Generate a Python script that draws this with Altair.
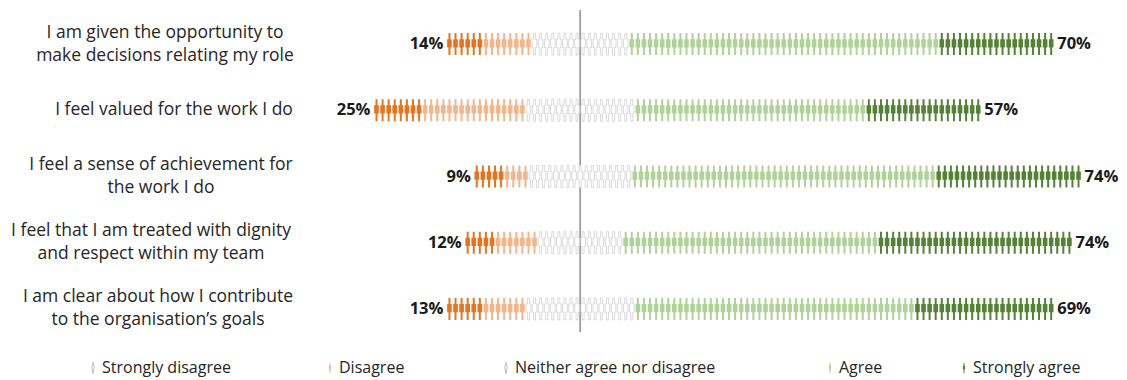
import altair as alt
import pandas as pd

# Survey statements (| marks a line break in the label)
QUESTIONS = [
    "I am given the opportunity to|make decisions relating my role",
    "I feel valued for the work I do",
    "I feel a sense of achievement for|the work I do",
    "I feel that I am treated with dignity|and respect within my team",
    "I am clear about how I contribute|to the organisation\u2019s goals",
]
RESPONSES = ["Strongly disagree", "Disagree", "Neither agree nor disagree",
             "Agree", "Strongly agree"]

# Percent of respondents per answer, one value per statement
STRONGLY_DISAGREE = [6, 8, 5, 5, 6]
DISAGREE = [8, 17, 4, 7, 7]
NEUTRAL = [16, 18, 17, 14, 18]
AGREE = [51, 38, 50, 42, 46]
STRONGLY_AGREE = [19, 19, 24, 32, 23]

COLORS = ["#E8731C", "#F5B48A", "#C4C4C4", "#B0D198", "#548235"]
FONT = "Open Sans"

# Layout (pixels)
PAD_LEFT, PAD_TOP = 337, 11
PLOT_W, PLOT_H = 778, 331
LABEL_CENTRES = [165, 174, 161, 151, 158]   # horizontal centre of each label block
LINE_H = 23
LEGEND_ICON_X = [93, 330, 506, 830, 964]
LEGEND_Y = 368

# one pictogram per percentage point
FIGURE = ("M-0.09,-1 L0.09,-1 L0.09,-0.45 L0.21,-0.45 L0.21,0.3 L0.09,0.3 "
          "L0.09,1 L-0.09,1 L-0.09,0.3 L-0.21,0.3 L-0.21,-0.45 L-0.09,-0.45 Z")

series = [STRONGLY_DISAGREE, DISAGREE, NEUTRAL, AGREE, STRONGLY_AGREE]

icons, totals, lines = [], [], []
for r, q in enumerate(QUESTIONS):
    vals = [s[r] for s in series]
    pos = -(vals[0] + vals[1] + vals[2] / 2)
    left_edge = pos
    for resp, v in zip(RESPONSES, vals):
        for i in range(v):
            icons.append({"q": q, "response": resp, "x": pos + i + 0.5})
        pos += v
    totals.append({"q": q, "xl": left_edge, "xr": pos,
                   "neg": f"{vals[0] + vals[1]}%",
                   "pos": f"{vals[3] + vals[4]}%"})
    parts = q.split("|")
    for k, t in enumerate(parts):
        lines.append({"q": q, "text": t, "slot": f"{len(parts)}-{k}",
                      "cx": LABEL_CENTRES[r] - PAD_LEFT})

icons = pd.DataFrame(icons)
totals = pd.DataFrame(totals)
lines = pd.DataFrame(lines)

xscale = alt.Scale(domain=[-40, 88], nice=False, zero=False)
yenc = alt.Y("q:N", sort=QUESTIONS, title=None, axis=None)
cscale = alt.Scale(domain=RESPONSES, range=COLORS)

base = alt.Chart(icons)

filled = base.transform_filter(
    alt.datum.response != RESPONSES[2]
).mark_point(shape=FIGURE, filled=True, size=484, opacity=1, strokeWidth=0).encode(
    x=alt.X("x:Q", scale=xscale, axis=None),
    y=yenc,
    color=alt.Color("response:N", scale=cscale, legend=None),
)

hollow = base.transform_filter(
    alt.datum.response == RESPONSES[2]
).mark_point(shape=FIGURE, filled=False, size=484, opacity=1, strokeWidth=0.7,
             fill="white", stroke="#CBCBCB").encode(
    x=alt.X("x:Q", scale=xscale, axis=None),
    y=yenc,
)

centre = alt.Chart(pd.DataFrame({"c": [0]})).mark_rule(
    color="#8C8C8C", strokeWidth=1.5
).encode(x=alt.X("c:Q", scale=xscale, axis=None),
         y=alt.value(-1), y2=alt.value(321))

lab_style = dict(font=FONT, fontSize=16.5, fontWeight="bold", color="#1a1a1a",
                 baseline="middle")
neg_lab = alt.Chart(totals).mark_text(align="right", dx=-3, **lab_style).encode(
    x=alt.X("xl:Q", scale=xscale, axis=None), y=yenc, text="neg:N")
pos_lab = alt.Chart(totals).mark_text(align="left", dx=3, **lab_style).encode(
    x=alt.X("xr:Q", scale=xscale, axis=None), y=yenc, text="pos:N")

# Statement labels, one layer per line slot so two-line labels sit centred
label_layers = []
for slot, dy in [("1-0", 0), ("2-0", -LINE_H / 2), ("2-1", LINE_H / 2)]:
    label_layers.append(
        alt.Chart(lines).transform_filter(alt.datum.slot == slot).mark_text(
            align="center", baseline="middle", dy=dy, font=FONT, fontSize=17.5,
            color="#262626"
        ).encode(x=alt.X("cx:Q", scale=None, axis=None), y=yenc, text="text:N")
    )

# Legend drawn by hand
leg = pd.DataFrame({"response": RESPONSES,
                    "lx": [v - PAD_LEFT for v in LEGEND_ICON_X],
                    "hollow": [True, False, True, False, False]})
ly = LEGEND_Y - PAD_TOP
leg_filled = alt.Chart(leg).transform_filter("!datum.hollow").mark_point(
    shape=FIGURE, filled=True, size=110, opacity=1, strokeWidth=0
).encode(x=alt.X("lx:Q", scale=None, axis=None), y=alt.value(ly),
         color=alt.Color("response:N", scale=cscale, legend=None))
leg_hollow = alt.Chart(leg).transform_filter("datum.hollow").mark_point(
    shape=FIGURE, filled=False, size=110, opacity=1, strokeWidth=0.8,
    fill="white", stroke="#B5B5B5"
).encode(x=alt.X("lx:Q", scale=None, axis=None), y=alt.value(ly))
leg_text = alt.Chart(leg).mark_text(
    align="left", baseline="middle", dx=9, font=FONT, fontSize=16, color="#262626"
).encode(x=alt.X("lx:Q", scale=None, axis=None), y=alt.value(ly),
         text="response:N")

main = alt.layer(centre, hollow, filled, neg_lab, pos_lab)
labels = alt.layer(*label_layers)
legend = alt.layer(leg_filled, leg_hollow, leg_text)

chart = alt.layer(main, labels, legend).resolve_scale(x="independent").properties(
    width=PLOT_W, height=PLOT_H,
    autosize=alt.AutoSizeParams(type="none"),
    padding={"left": PAD_LEFT, "top": PAD_TOP, "right": 1127 - PAD_LEFT - PLOT_W,
             "bottom": 380 - PAD_TOP - PLOT_H},
).configure(background="white").configure_view(stroke=None, strokeWidth=0)

chart.save("out.html", embed_options={"renderer": "svg", "actions": False})
